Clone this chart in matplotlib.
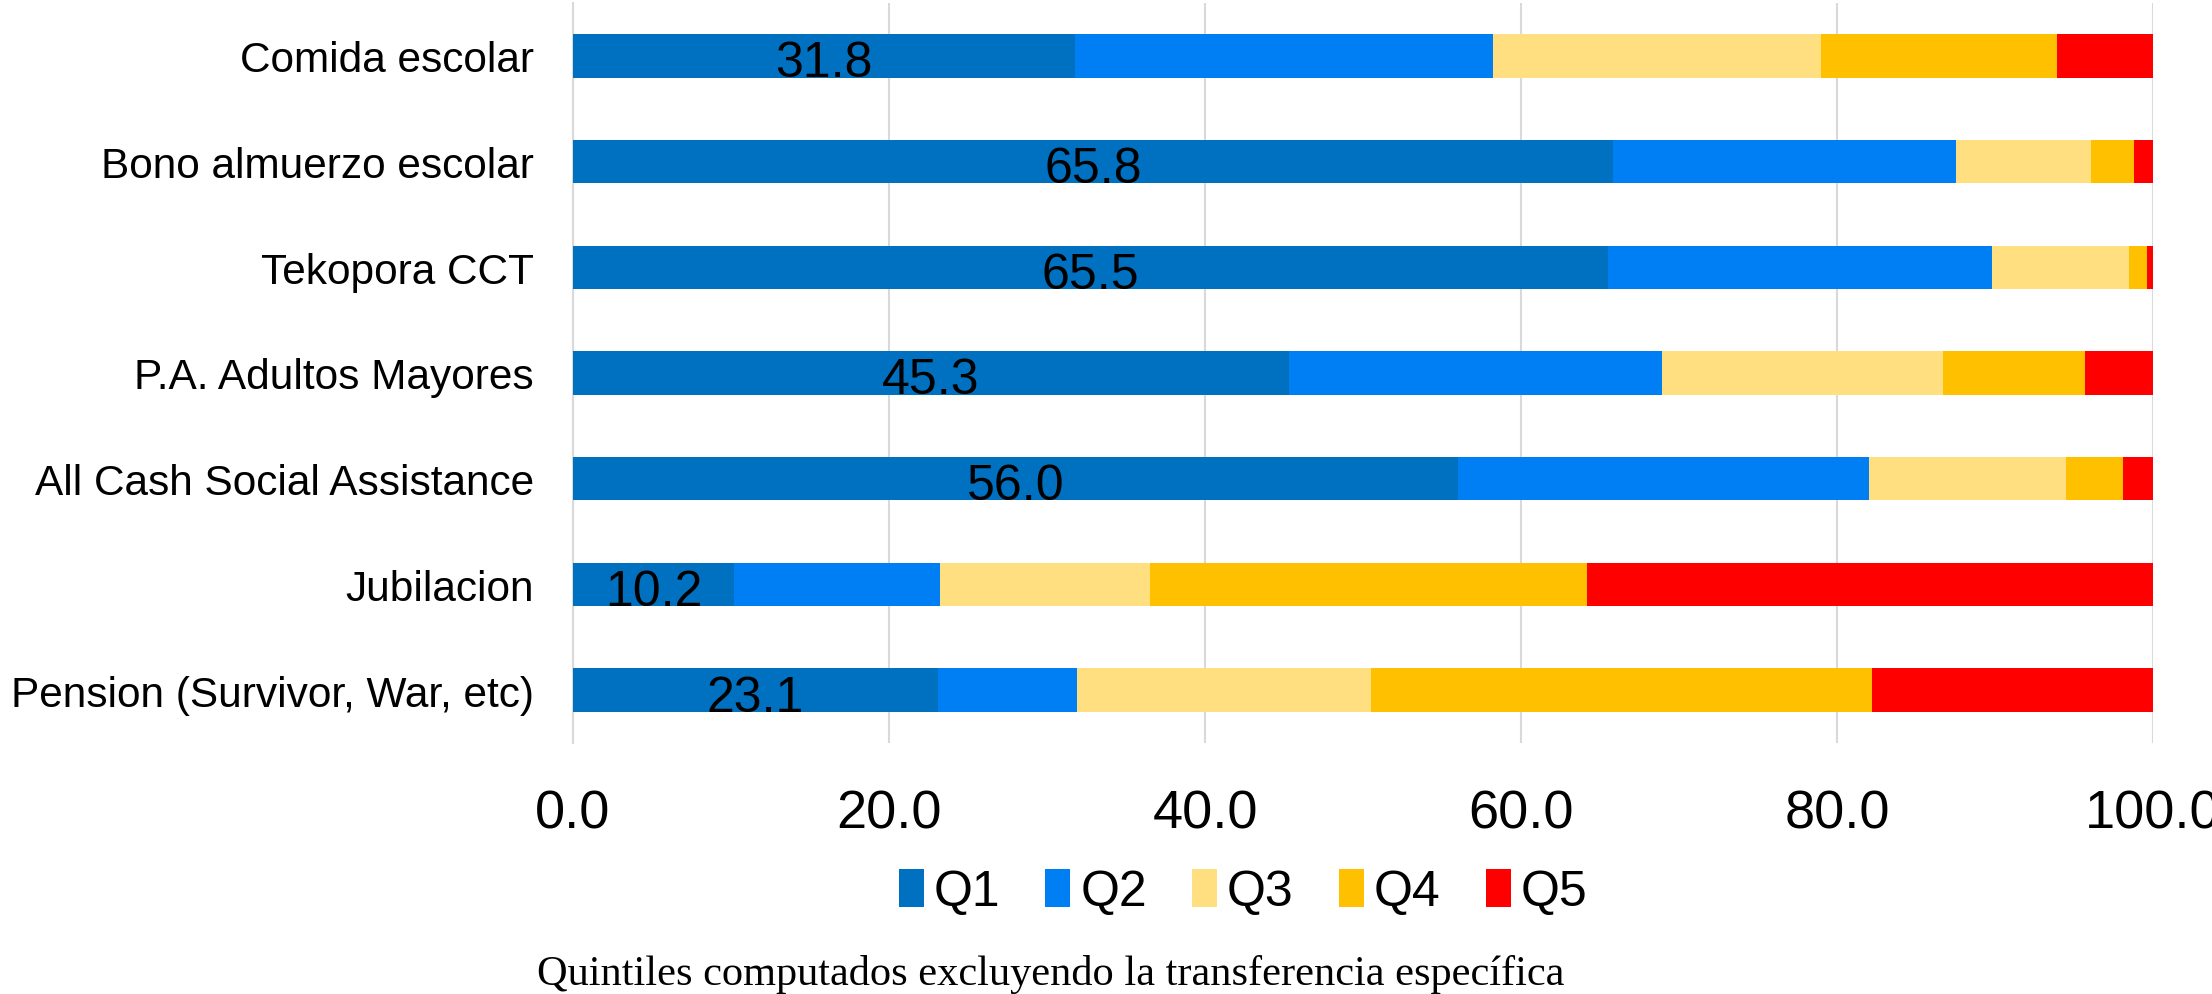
import matplotlib
matplotlib.use("Agg")
import matplotlib.pyplot as plt
import numpy as np

categories = ["Comida escolar", "Bono almuerzo escolar", "Tekopora CCT",
              "P.A. Adultos Mayores", "All Cash Social Assistance",
              "Jubilacion", "Pension (Survivor, War, etc)"]
q1 = [31.8, 65.8, 65.5, 45.3, 56.0, 10.2, 23.1]
q2 = [26.4, 21.7, 24.3, 23.6, 26.0, 13.0, 8.8]
q3 = [20.8, 8.6, 8.7, 17.8, 12.5, 13.3, 18.6]
q4 = [14.9, 2.7, 1.1, 9.0, 3.6, 27.7, 31.7]
q5 = [6.1, 1.2, 0.4, 4.3, 1.9, 35.8, 17.8]
series_names = ["Q1", "Q2", "Q3", "Q4", "Q5"]
colors = ["#0070C0", "#007FF4", "#FFDF7F", "#FFC000", "#FF0000"]
xticks = [0, 20, 40, 60, 80, 100]
footnote = "Quintiles computados excluyendo la transferencia específica"

plt.rcParams['font.family'] = ['Liberation Sans', 'DejaVu Sans']

fig = plt.figure(figsize=(22.12, 9.95), dpi=100)
ax = fig.add_axes([573/2212, 1 - 744/995, (2153-573)/2212, (744-4)/995])

y = np.arange(len(categories))
left = np.zeros(len(categories))
for name, vals, c in zip(series_names, [q1, q2, q3, q4, q5], colors):
    vals = np.array(vals)
    ax.barh(y, vals, left=left, height=0.41, color=c, label=name, zorder=3)
    left = left + vals

for yi, v in zip(y, q1):
    ax.text(v / 2, yi + 0.07, f"{v:.1f}", ha="center", va="center", fontsize=36, color="black", zorder=4)

ax.set_xlim(0, 100)
ax.set_ylim(len(categories) - 0.5, -0.5)
ax.set_yticks(y)
ax.set_yticklabels(categories, fontsize=30.5)
ax.set_xticks(xticks)
ax.set_xticklabels([f"{t:.1f}" for t in xticks], fontsize=39)
ax.tick_params(axis="y", length=0, pad=28)
ax.tick_params(axis="x", length=0, pad=33)
for s in ["top", "right", "bottom"]:
    ax.spines[s].set_visible(False)
ax.spines["left"].set_color("#D9D9D9")
ax.spines["left"].set_linewidth(1.5)
ax.grid(axis="x", color="#D9D9D9", linewidth=1.5, zorder=0)
ax.set_axisbelow(True)

fig.legend(loc="center", bbox_to_anchor=(1243/2212, 1 - 893/995), ncol=5, frameon=False,
           fontsize=36, handlelength=0.5, handleheight=0.8, handletextpad=0.2, columnspacing=0.9)

fig.text(1051/2212, 1 - 975/995, footnote, ha="center", va="center", fontsize=30.5,
         family=["Liberation Serif", "DejaVu Serif"])

fig.savefig("out.png", dpi=100)
